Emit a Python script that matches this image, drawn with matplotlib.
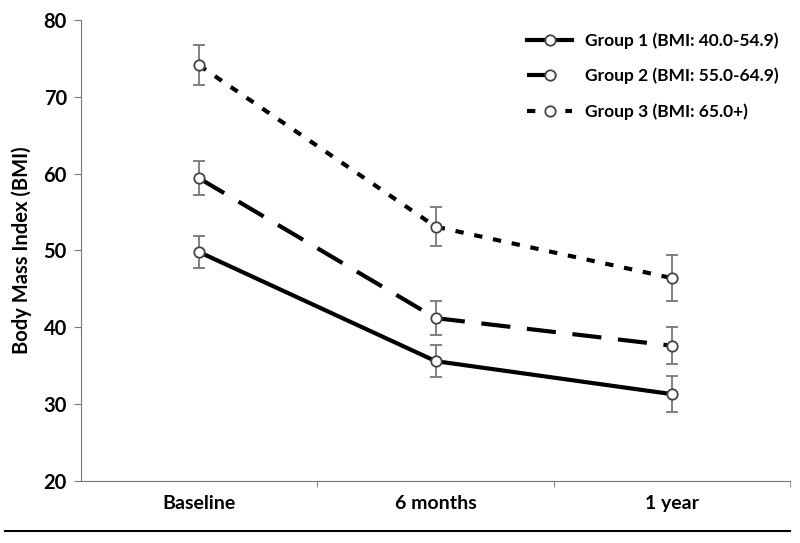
import matplotlib.pyplot as plt
from matplotlib.lines import Line2D
import numpy as np

plt.rcParams['font.family'] = ['Lato', 'DejaVu Sans']
plt.rcParams['font.weight'] = 'bold'

timepoints = ["Baseline", "6 months", "1 year"]
labels = ["Group 1 (BMI: 40.0-54.9)", "Group 2 (BMI: 55.0-64.9)", "Group 3 (BMI: 65.0+)"]
g1 = [49.8, 35.6, 31.3]
g1_err = [2.1, 2.1, 2.3]
g2 = [59.4, 41.2, 37.6]
g2_err = [2.2, 2.2, 2.4]
g3 = [74.1, 53.1, 46.4]
g3_err = [2.6, 2.5, 3.0]

x = np.arange(len(timepoints))
fig = plt.figure(figsize=(8, 5.43), dpi=100)
ax = fig.add_axes([0.101, 0.1142, 0.887, 0.849])

styles = [None, (0, (7, 4)), (0, (2, 2.6))]
series = [(g1, g1_err), (g2, g2_err), (g3, g3_err)]
for (vals, err), dash, lab in zip(series, styles, labels):
    ax.errorbar(x, vals, yerr=err, fmt='none', ecolor='#777777', elinewidth=1.3,
                capsize=4, capthick=1.3, zorder=2)
    ln, = ax.plot(x, vals, color='black', lw=3, marker='o', markersize=7.5,
                  markerfacecolor='white', markeredgecolor='#444444',
                  markeredgewidth=1.3, label=lab, zorder=3)
    if dash is not None:
        ln.set_linestyle(dash)

ax.set_xlim(-0.5, 2.5)
ax.set_ylim(20, 80)
ax.set_yticks(range(20, 81, 10))
ax.set_xticks(x)
ax.set_xticklabels(timepoints, fontsize=14, fontweight='bold')
ax.set_xticks([0.5, 1.5, 2.5], minor=True)
ax.tick_params(axis='x', which='major', length=0, pad=10)
ax.tick_params(axis='x', which='minor', length=4, color='#777777')
ax.tick_params(axis='y', length=5, color='#777777', labelsize=14.5, pad=5)
for t in ax.get_yticklabels():
    t.set_fontweight('bold')
ax.set_ylabel("Body Mass Index (BMI)", fontsize=14.5, fontweight='bold', labelpad=8)

ax.spines['top'].set_visible(False)
ax.spines['right'].set_visible(False)
ax.spines['left'].set_color('#777777')
ax.spines['bottom'].set_color('#777777')

leg = ax.legend(loc='upper right', bbox_to_anchor=(1.0, 1.0), frameon=False,
                fontsize=12.5, labelspacing=1.1, handlelength=2.6, handletextpad=0.7,
                borderaxespad=0.3)
for t in leg.get_texts():
    t.set_fontweight('bold')

fig.add_artist(Line2D([0.006, 0.988], [0.022, 0.022], color='black', lw=1.5))

fig.savefig("out.png", dpi=100)
